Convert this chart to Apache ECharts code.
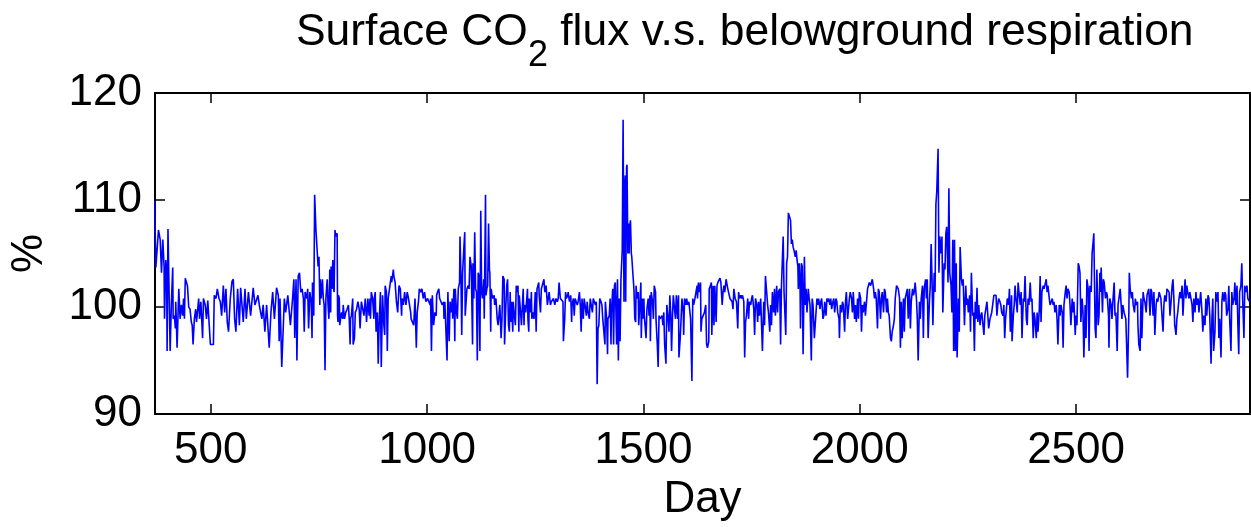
<!DOCTYPE html>
<html>
<head>
<meta charset="utf-8">
<script src="https://cdn.jsdelivr.net/npm/echarts@6/dist/echarts.min.js"></script>
<style>
  html, body { margin: 0; padding: 0; background: #fff; }
  #chart { width: 1251px; height: 527px; }
</style>
</head>
<body>
<div id="chart"></div>
<script>
// Surface CO2 flux as a percentage of belowground respiration, by day
const dayTicks = [500, 1000, 1500, 2000, 2500];
const pctTicks = [90, 100, 110, 120];
const dayRange = [371, 2902];

// [day, %] pairs
const fluxPct = [
  [370,109.9],[373,103.7],[379,107.2],[383,106.3],[386,103.2],[389,106.3],[392,103.8],[393,98.9],[396,104.4],[398,103.2],
  [399,95.9],[401,107.3],[405,107.2],[406,95.9],[409,100.5],[412,103.7],[413,98.9],[416,99.2],[418,98.0],[419,100.5],
  [422,96.2],[426,101.7],[429,98.9],[432,100.2],[435,99.2],[437,100.8],[439,98.9],[441,102.7],[446,102.0],[449,100.0],
  [452,99.8],[455,98.6],[457,98.3],[459,96.5],[462,98.9],[465,99.8],[467,98.6],[472,100.8],[474,98.9],[477,100.5],
  [481,97.1],[483,100.8],[487,100.2],[490,98.9],[493,100.6],[496,100.5],[499,96.5],[506,96.5],[508,101.1],[512,100.8],
  [515,101.7],[519,100.8],[522,100.5],[525,99.2],[529,102.0],[532,99.5],[535,101.7],[538,98.6],[541,97.7],[545,100.8],
  [549,102.4],[552,102.6],[555,98.9],[558,97.7],[562,101.7],[566,98.3],[569,101.8],[572,100.2],[575,98.6],[579,101.7],
  [582,98.9],[587,101.4],[592,99.2],[598,101.8],[602,100.2],[609,101.1],[612,100.2],[618,98.9],[621,100.2],[625,97.7],
  [629,100.2],[635,96.2],[639,99.5],[643,101.4],[647,98.9],[652,101.8],[656,101.1],[658,96.8],[660,100.8],[664,94.4],
  [670,100.8],[673,99.5],[678,101.1],[684,98.3],
  [689,100.8],[692,102.6],[694,97.1],[697,102.6],[699,95.0],[702,102.9],[705,103.2],[708,101.4],[711,101.7],[714,100.8],
  [716,97.7],[718,101.4],[722,100.8],[724,101.7],[726,98.0],[729,101.4],[732,100.5],[734,97.1],[735,102.3],[738,99.2],
  [740,110.5],[743,107.2],[746,107.2],[748,103.8],[750,104.7],[752,100.2],[753,102.6],[755,100.8],[757,102.0],[758,102.6],
  [760,100.8],[762,100.2],[764,94.1],[766,100.8],[769,102.6],[771,100.2],[773,98.9],[775,103.5],[777,99.5],[778,103.8],
  [780,101.7],[782,104.4],[784,101.7],[785,101.4],[787,107.2],[789,106.6],[792,106.9],[793,99.2],[794,98.6],[795,101.1],
  [797,100.8],[798,98.3],[800,98.9],[802,99.5],[805,98.9],[806,100.2],[809,98.9],[812,99.5],[815,99.8],[818,100.2],
  [820,98.9],[822,96.5],[823,98.9],[825,99.2],[828,100.8],[829,96.5],[832,97.1],[834,99.5],[837,99.8],[840,100.5],
  [843,99.8],[845,98.0],[848,100.5],[851,100.5],[854,99.2],[857,100.8],[860,98.6],[863,100.8],[866,99.2],[868,100.8],
  [869,98.9],[871,101.4],[874,100.8],[877,98.9],[878,100.8],[880,101.4],[882,97.7],[885,99.5],[887,94.7],[889,98.3],
  [892,101.4],[894,94.4],[897,101.1],[900,98.3],[902,97.4],[903,102.0],[906,101.4],[908,95.9],[910,100.8],[914,102.0],
  [917,102.9],[918,102.3],[922,103.5],[923,102.9],[926,102.3],[929,100.5],[932,99.5],[935,102.0],[938,101.7],[941,99.2],
  [942,100.8],[945,100.2],[948,101.4],[951,100.2],[954,101.4],[957,100.8],[960,100.8],[962,99.5],[963,98.9],[966,98.9],
  [969,98.3],[972,100.8],[975,96.2],[977,99.5],[980,100.5],[982,101.7],[985,101.4],[988,101.7],[991,100.8],[994,101.4],
  [997,100.5],
  [1001,100.8],[1004,100.5],[1007,100.2],[1008,100.8],[1010,95.9],[1012,101.1],[1015,98.3],[1018,99.5],[1021,99.2],[1022,101.1],
  [1024,101.4],[1027,101.7],[1029,100.8],[1032,100.8],[1035,100.2],[1038,100.5],[1039,98.9],[1041,100.5],[1044,100.5],[1046,95.0],
  [1048,101.4],[1051,96.8],[1053,100.5],[1056,99.5],[1058,100.8],[1059,98.9],[1062,101.7],[1064,96.8],[1065,101.7],[1068,99.5],
  [1070,98.9],[1072,101.7],[1075,102.3],[1076,106.6],[1078,103.2],[1080,97.4],[1082,103.2],[1085,105.6],[1087,107.0],[1088,99.2],
  [1091,99.2],[1092,101.7],[1095,102.0],[1097,101.7],[1099,104.7],[1102,103.8],[1105,96.5],[1106,104.1],[1108,100.8],[1110,107.0],
  [1112,101.7],[1114,101.4],[1116,95.0],[1118,103.2],[1120,102.9],[1122,95.9],[1124,109.0],[1126,101.4],[1128,100.8],[1131,102.6],
  [1132,98.9],[1135,110.5],[1136,101.1],[1138,101.7],[1140,102.0],[1142,107.8],[1144,103.5],[1145,103.2],[1147,97.7],[1148,101.7],
  [1150,101.1],[1152,100.8],[1155,101.1],[1156,100.2],[1159,100.8],[1162,98.9],[1164,98.3],[1166,99.2],[1168,100.2],[1171,97.1],
  [1173,98.9],[1175,102.9],[1178,102.6],[1179,96.5],[1182,100.2],[1184,102.0],[1186,102.6],[1188,98.3],[1190,97.7],[1192,101.4],
  [1193,98.6],[1195,100.5],[1198,97.7],[1199,100.5],[1201,99.5],[1204,98.3],[1206,102.0],[1208,101.4],[1210,102.0],[1212,97.7],
  [1213,101.1],[1216,99.5],[1218,98.3],[1221,100.8],[1222,101.7],[1224,98.3],[1225,100.2],[1228,99.5],[1232,101.7],[1233,98.9],
  [1235,97.7],[1236,100.8],[1239,99.5],[1241,101.4],[1242,98.9],[1245,99.5],[1247,98.9],[1250,101.4],[1252,97.7],[1254,101.7],
  [1256,102.0],[1258,102.3],[1259,101.1],[1262,99.5],[1264,101.7],[1266,102.0],[1268,102.3],[1270,102.6],[1272,101.4],[1275,102.0],
  [1278,100.2],[1280,100.8],[1282,101.4],[1285,100.2],[1287,100.5],[1290,100.5],[1292,100.8],[1295,100.2],[1298,100.8],[1301,100.5],
  [1303,100.8],[1305,102.3],[1308,100.8],
  [1312,100.8],[1314,100.5],[1315,96.8],[1318,98.9],[1320,101.4],[1322,100.8],[1325,101.1],[1326,101.4],[1329,100.5],[1332,101.1],
  [1334,98.6],[1335,100.2],[1338,100.8],[1340,99.2],[1342,100.8],[1345,100.8],[1347,100.2],[1349,100.5],[1352,101.4],[1354,100.2],
  [1356,97.7],[1358,100.8],[1361,98.9],[1363,100.8],[1365,100.2],[1368,99.2],[1370,100.5],[1372,99.5],[1375,98.9],[1377,100.8],
  [1379,100.8],[1382,99.5],[1384,100.8],[1386,100.8],[1389,100.2],[1391,100.5],[1393,92.8],[1395,98.0],[1397,98.3],[1399,100.8],
  [1402,100.5],[1404,100.2],[1406,98.9],[1408,98.9],[1411,96.5],[1412,100.5],[1415,98.9],[1417,95.6],[1418,98.9],[1421,99.2],
  [1423,100.8],[1425,96.5],[1426,99.5],[1429,101.7],[1431,96.5],[1433,102.0],[1435,102.3],[1438,96.5],[1440,102.6],[1442,95.0],
  [1444,100.8],[1446,96.8],[1448,102.6],[1449,102.6],[1451,105.3],[1453,117.5],[1455,100.5],[1456,110.8],[1458,112.3],[1459,100.5],
  [1461,113.0],[1462,113.3],[1464,105.0],[1465,107.8],[1467,105.0],[1468,107.5],[1470,108.1],[1472,105.0],[1473,104.7],[1475,104.7],
  [1477,102.3],[1478,101.7],[1480,98.9],[1482,98.6],[1483,102.0],[1485,100.8],[1488,101.4],[1489,98.3],[1492,100.5],[1494,102.3],
  [1495,97.1],[1497,100.8],[1499,98.9],[1501,100.8],[1502,99.2],[1505,99.2],[1506,97.1],[1508,99.8],[1511,100.8],[1513,99.2],
  [1515,101.1],[1516,96.8],[1518,101.4],[1521,100.5],[1523,98.9],[1525,102.0],[1528,101.4],[1529,98.9],[1532,96.5],[1534,94.4],
  [1536,99.2],[1538,98.9],[1541,98.9],[1543,99.2],[1545,98.3],[1547,99.5],[1549,96.5],[1552,94.7],[1554,100.2],[1557,98.9],
  [1559,97.7],[1561,101.1],[1563,99.5],[1565,95.9],[1567,98.9],[1569,101.1],[1572,101.1],[1574,98.9],[1576,101.1],[1579,98.9],
  [1581,101.1],[1582,95.3],[1585,97.1],[1587,98.9],[1589,100.8],[1592,99.5],[1593,97.4],[1595,100.8],[1598,100.2],[1600,100.8],
  [1602,100.2],[1605,100.5],[1607,100.5],[1609,98.9],[1612,93.1],[1614,100.8],[1616,100.2],[1619,100.8],
  [1624,102.0],[1625,100.8],[1627,102.3],[1629,101.4],[1632,102.3],[1633,97.7],[1635,98.9],[1638,99.2],[1641,99.5],[1644,100.2],
  [1646,96.5],[1648,96.2],[1651,96.8],[1652,101.7],[1655,102.0],[1657,102.3],[1658,97.4],[1661,102.0],[1663,98.3],[1665,102.0],
  [1668,98.6],[1670,102.0],[1672,102.3],[1675,102.3],[1677,102.7],[1679,102.3],[1682,100.2],[1684,101.4],[1686,102.0],[1688,101.4],
  [1691,102.6],[1693,102.6],[1695,101.7],[1698,101.7],[1700,100.8],[1702,100.8],[1705,100.5],[1707,99.8],[1709,101.7],[1712,100.8],
  [1715,100.5],[1718,98.0],[1720,101.4],[1722,100.8],[1725,101.1],[1727,100.8],[1729,101.1],[1732,100.5],[1734,95.3],[1736,98.6],
  [1738,99.2],[1741,100.8],[1743,98.9],[1745,100.5],[1748,100.2],[1750,100.8],[1752,101.1],[1755,99.8],[1757,97.4],[1759,100.8],
  [1762,100.2],[1764,98.6],[1766,100.5],[1768,99.2],[1771,100.8],[1773,100.8],[1775,95.9],[1778,100.5],[1780,98.3],[1782,102.9],
  [1785,102.9],[1787,100.2],[1789,99.5],[1792,97.7],[1794,100.2],[1796,98.3],[1798,101.4],[1801,99.5],[1803,101.7],[1805,99.2],
  [1808,102.0],[1810,99.5],[1812,101.4],[1815,101.7],[1817,96.5],[1819,102.0],[1822,102.0],[1823,106.6],[1825,101.4],[1828,101.4],
  [1829,97.4],[1831,104.1],[1833,104.7],[1835,108.8],[1838,108.4],[1840,108.1],[1842,105.9],[1844,106.3],[1846,105.6],[1848,105.3],
  [1851,104.7],[1853,105.3],[1855,104.4],[1857,103.8],[1858,101.7],[1860,104.1],[1862,102.0],[1863,98.0],[1865,104.1],[1867,103.8],
  [1869,95.6],[1872,104.7],[1874,100.2],[1876,101.7],[1878,99.5],[1881,101.7],[1883,100.8],[1885,100.2],[1888,95.0],[1890,100.8],
  [1892,100.2],[1895,97.1],[1899,97.1],[1901,100.8],[1903,100.2],[1905,100.8],[1908,99.8],[1910,100.5],[1912,100.8],[1915,98.9],
  [1917,99.2],[1919,100.5],[1922,99.2],[1924,100.8],[1926,100.5],[1928,100.8],[1931,100.2],
  [1933,100.8],[1935,99.8],[1938,100.5],[1940,100.8],[1942,99.5],[1945,100.8],[1947,100.5],[1949,99.5],[1952,98.9],[1953,97.1],
  [1955,100.2],[1958,99.5],[1960,100.5],[1962,100.2],[1965,97.7],[1967,100.5],[1969,101.4],[1972,98.9],[1974,98.9],[1976,100.8],
  [1978,101.4],[1981,100.8],[1983,99.5],[1985,101.4],[1988,98.9],[1990,100.2],[1992,98.6],[1995,100.8],[1997,98.9],[1999,101.4],
  [2002,100.8],[2004,97.7],[2006,100.2],[2008,99.5],[2011,100.5],[2013,99.2],[2015,99.2],[2018,101.7],[2020,102.0],[2022,102.3],
  [2025,102.0],[2027,102.3],[2029,102.6],[2032,101.7],[2034,100.8],[2036,101.4],[2038,100.8],[2041,98.0],[2043,101.7],[2045,101.4],
  [2048,98.9],[2050,100.8],[2052,101.4],[2055,99.5],[2057,101.7],[2059,101.4],[2062,99.5],[2064,100.8],[2066,99.5],[2068,99.2],
  [2071,97.1],[2073,96.8],[2075,97.7],[2078,98.3],[2080,98.9],[2082,100.8],[2085,102.0],[2087,102.0],[2089,101.7],[2092,100.8],
  [2094,96.2],[2096,100.5],[2098,97.1],[2101,100.8],[2103,97.7],[2105,100.8],[2108,100.8],[2110,101.7],[2112,98.9],[2115,101.7],
  [2117,98.0],[2119,100.5],[2122,101.7],[2124,101.1],[2126,101.4],[2128,102.3],[2131,100.8],[2133,98.9],[2135,95.0],[2138,100.5],
  [2140,98.9],[2142,100.8],[2145,102.0],[2147,97.1],[2149,101.7],[2152,102.6],[2154,100.8],[2156,102.6],[2158,97.1],[2161,100.5],
  [2163,102.0],[2165,105.9],[2167,102.6],[2169,98.3],[2172,103.2],[2174,101.4],[2176,109.6],[2178,110.8],[2181,114.8],[2183,103.2],
  [2185,106.6],[2188,105.0],[2190,106.6],[2192,99.5],[2195,104.1],[2197,103.5],[2199,106.9],[2201,107.5],[2204,102.3],[2206,111.1],
  [2208,103.2],[2211,102.0],[2213,99.5],[2215,106.3],[2217,95.9],[2219,106.3],[2221,95.9],[2223,104.1],[2225,95.3],[2228,100.8],
  [2230,97.7],[2232,105.6],[2235,102.6],[2237,102.0],[2239,102.6],[2242,98.3],[2244,100.8],
  [2245,102.0],[2247,100.2],[2249,100.8],[2251,99.5],[2254,101.1],[2256,97.7],[2258,103.2],[2261,99.2],[2263,99.5],[2265,95.9],
  [2267,100.5],[2269,98.9],[2271,101.8],[2273,98.6],[2275,100.2],[2278,98.3],[2280,99.2],[2282,99.5],[2285,99.5],[2287,97.4],
  [2289,99.2],[2291,99.2],[2294,100.5],[2296,100.5],[2298,98.0],[2301,98.9],[2303,98.9],[2305,99.5],[2308,99.5],[2310,101.1],
  [2312,101.1],[2315,101.1],[2317,99.2],[2319,100.2],[2321,100.8],[2324,100.5],[2326,100.2],[2328,99.5],[2331,99.2],[2333,100.2],
  [2335,97.1],[2337,98.9],[2339,99.8],[2341,100.8],[2344,100.2],[2346,101.7],[2348,97.7],[2351,101.1],[2352,96.8],[2355,99.2],
  [2357,100.2],[2359,102.0],[2361,100.8],[2364,99.5],[2366,102.3],[2368,101.4],[2371,100.2],[2373,101.4],[2375,97.1],[2378,100.8],
  [2380,100.5],[2382,102.9],[2385,98.9],[2387,98.3],[2389,100.8],[2391,100.2],[2394,102.3],[2396,100.5],[2398,100.8],[2401,97.1],
  [2403,99.5],[2405,98.9],[2408,97.1],[2410,99.5],[2412,97.7],[2415,99.8],[2417,102.9],[2419,98.6],[2421,101.4],[2424,102.0],
  [2426,101.7],[2428,101.7],[2431,102.6],[2433,101.4],[2435,102.0],[2438,100.8],[2440,100.2],[2442,100.2],[2445,100.8],[2447,100.2],
  [2449,100.5],[2451,99.5],[2454,100.2],[2456,98.9],[2458,96.5],[2461,100.2],[2463,99.2],[2465,100.2],[2468,99.5],[2470,96.2],
  [2472,100.2],[2475,101.4],[2477,102.0],[2479,100.8],[2481,101.7],[2484,101.4],[2486,100.2],[2488,98.3],[2491,100.8],[2493,99.5],
  [2495,100.5],[2498,97.4],[2500,99.2],[2502,98.3],[2505,104.1],[2507,103.8],[2509,103.2],[2511,98.6],[2514,100.8],[2516,99.5],
  [2518,95.3],[2521,100.2],[2523,97.1],[2525,102.6],[2528,101.7],[2530,95.9],[2532,102.0],[2535,101.4],[2537,105.0],[2539,105.9],
  [2541,106.9],[2544,98.0],[2546,97.1],[2548,103.5],[2551,98.3],[2553,99.2],[2555,103.2],
  [2556,101.4],[2558,103.7],[2561,99.5],[2563,102.6],[2565,102.3],[2568,100.8],[2570,101.4],[2572,101.1],[2575,99.2],[2576,96.2],
  [2578,100.8],[2581,100.2],[2583,98.9],[2585,100.5],[2588,102.3],[2590,99.2],[2592,99.5],[2595,95.9],[2597,100.2],[2599,100.8],
  [2602,101.7],[2604,101.7],[2606,98.9],[2608,100.2],[2611,99.5],[2613,99.5],[2615,98.9],[2618,98.9],[2619,93.4],[2622,99.5],
  [2623,103.2],[2625,101.7],[2628,100.8],[2630,101.4],[2632,100.2],[2635,99.5],[2637,100.8],[2639,100.2],[2642,100.5],[2643,98.3],
  [2645,96.5],[2648,95.9],[2650,100.8],[2652,97.1],[2655,101.4],[2657,100.8],[2659,100.5],[2662,99.5],[2664,101.1],[2666,101.4],
  [2668,101.7],[2671,99.2],[2673,101.7],[2675,101.4],[2678,99.2],[2680,101.4],[2682,97.4],[2685,100.2],[2687,100.8],[2689,100.5],
  [2692,101.4],[2694,101.1],[2696,100.8],[2698,100.8],[2701,97.7],[2703,100.2],[2705,101.1],[2708,100.5],[2710,101.7],[2712,101.7],
  [2715,101.4],[2717,99.2],[2719,100.2],[2722,102.0],[2724,102.6],[2726,100.8],[2728,98.3],[2731,97.4],[2733,98.9],[2735,99.5],
  [2738,100.8],[2740,101.4],[2742,100.8],[2745,102.0],[2747,99.2],[2749,100.8],[2752,102.6],[2754,100.8],[2756,102.0],[2758,101.4],
  [2761,100.8],[2763,101.4],[2765,101.4],[2768,100.2],[2770,98.6],[2772,100.8],[2775,99.5],[2777,101.4],[2779,100.2],[2782,100.8],
  [2784,99.5],[2786,100.5],[2788,101.4],[2791,99.5],[2793,97.7],[2795,99.2],[2798,98.3],[2800,100.8],[2802,99.2],[2805,101.1],
  [2807,100.8],[2809,99.2],[2812,94.7],[2814,98.9],[2816,100.8],[2818,95.9],[2821,97.7],[2823,101.4],[2825,100.5],[2828,101.4],
  [2830,97.1],[2832,98.9],[2835,95.3],[2837,100.5],[2839,101.4],[2842,100.5],[2844,101.4],[2846,101.1],[2848,99.2],[2851,99.8],
  [2853,102.0],[2855,98.9],[2858,95.9],[2860,101.4],[2862,100.2],[2865,100.8],[2867,102.3],[2869,100.2],[2872,102.0],[2874,98.3],
  [2876,95.6],[2878,101.4],[2881,102.0],[2883,104.1],[2885,100.8],[2888,97.1],[2890,102.0],[2892,101.4],[2895,102.0],[2897,100.8],
  [2899,100.8],[2901,100.5]
];

const FONT = '"Liberation Sans", Arial, Helvetica, sans-serif';
const chart = echarts.init(document.getElementById('chart'), null, { renderer: 'canvas' });

const boxLine = { show: true, lineStyle: { color: '#000', width: 2 } };
const tickIn = (vals) => ({ show: true, inside: true, length: 10, lineStyle: { color: '#000', width: 1.5 }, customValues: vals });

chart.setOption({
  animation: false,
  backgroundColor: '#fff',
  title: {
    text: 'Surface CO{sub|2} flux v.s. belowground respiration',
    left: 296,
    top: 8,
    padding: 0,
    textStyle: {
      fontFamily: FONT,
      fontSize: 44.4,
      fontWeight: 'normal',
      color: '#000',
      lineHeight: 50,
      rich: {
        sub: { fontFamily: FONT, fontSize: 36, color: '#000', lineHeight: 50, padding: [46, 0, 0, 0] }
      }
    }
  },
  grid: { left: 153, top: 93, width: 1097, height: 328, containLabel: false },
  xAxis: [
    {
      type: 'value', position: 'bottom', min: dayRange[0], max: dayRange[1],
      name: 'Day', nameLocation: 'middle', nameGap: 59,
      nameTextStyle: { fontFamily: FONT, fontSize: 44, color: '#000' },
      axisLine: boxLine,
      axisTick: tickIn(dayTicks),
      axisLabel: {
        customValues: dayTicks, fontFamily: FONT, fontSize: 44, color: '#000', margin: 15,
        formatter: (v) => String(v)
      },
      splitLine: { show: false }
    },
    {
      type: 'value', position: 'top', min: dayRange[0], max: dayRange[1],
      axisLine: boxLine,
      axisTick: tickIn(dayTicks),
      axisLabel: { show: false },
      splitLine: { show: false }
    }
  ],
  yAxis: [
    {
      type: 'value', position: 'left', min: pctTicks[0], max: pctTicks[pctTicks.length - 1], interval: 10,
      name: '%', nameLocation: 'middle', nameGap: 103,
      nameTextStyle: { fontFamily: FONT, fontSize: 44, color: '#000' },
      axisLine: boxLine,
      axisTick: tickIn(pctTicks),
      axisLabel: { fontFamily: FONT, fontSize: 44, color: '#000', margin: 13, formatter: (v) => String(v) },
      splitLine: { show: false }
    },
    {
      type: 'value', position: 'right', min: pctTicks[0], max: pctTicks[pctTicks.length - 1], interval: 10,
      axisLine: boxLine,
      axisTick: tickIn(pctTicks),
      axisLabel: { show: false },
      splitLine: { show: false }
    }
  ],
  series: [
    {
      type: 'line',
      xAxisIndex: 0,
      yAxisIndex: 0,
      data: fluxPct,
      showSymbol: false,
      symbol: 'none',
      clip: true,
      lineStyle: { color: '#0000ff', width: 1.6 },
      emphasis: { disabled: true }
    }
  ]
});
</script>
</body>
</html>
